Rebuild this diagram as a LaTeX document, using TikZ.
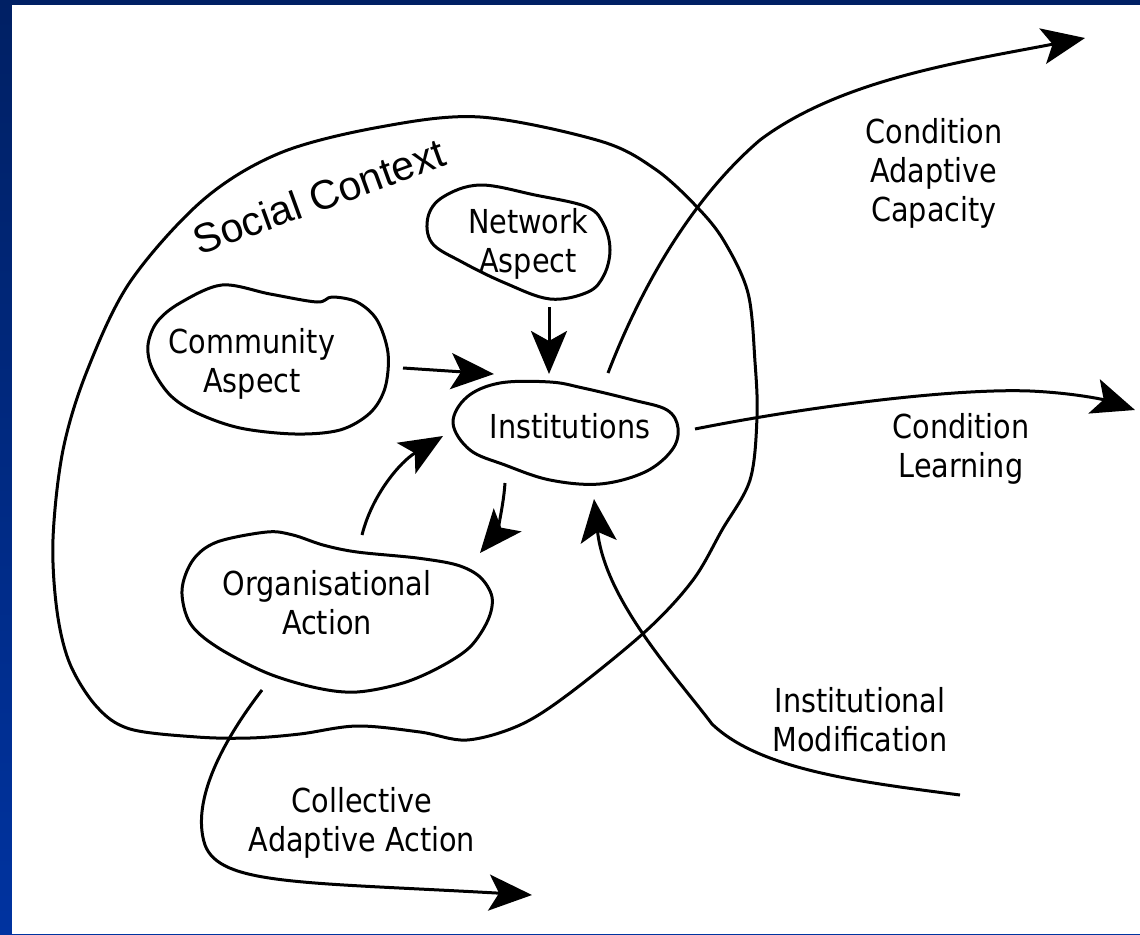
\documentclass[tikz,border=0pt]{standalone}
\usepackage{fontspec}
\usetikzlibrary{arrows.meta}
\newfontfamily\lblfont[FakeStretch=0.87]{DejaVu Sans}
\newfontfamily\ctxfont{Liberation Sans}
\definecolor{navytop}{RGB}{0,32,100}
\definecolor{navybot}{RGB}{0,51,160}
\begin{document}
\begin{tikzpicture}[x=1pt,y=-1pt,
  blob/.style={draw=black,line width=3pt,line join=round},
  conn/.style={line width=3pt,-{Stealth[length=43pt,width=36pt,inset=10pt]}},
  lbl/.style={font=\lblfont\fontsize{33}{39}\selectfont,align=center,inner sep=0pt,anchor=north}]
\useasboundingbox (0,0) rectangle (1140,934);
% frame
\shade[top color=navytop,bottom color=navybot] (0,0) rectangle (1140,934);
\fill[white] (12,5) rectangle (1140,934);

% Social context outline
\draw[blob] plot[smooth cycle,tension=0.55] coordinates {
 (203,200) (280,153) (380,127) (480,117) (600,141) (655,169) (697,207)
 (724,241) (748,293) (755,362) (757,417) (750,480) (722,530) (693,580)
 (647,630) (570,693) (520,725) (467,740) (420,732) (357,726) (300,734)
 (250,738) (197,737) (130,729) (97,707) (70,664) (57,611) (53,539)
 (63,450) (87,371) (130,282)};
\node[font=\ctxfont\fontsize{41}{48}\selectfont,anchor=base,rotate=20,inner sep=0pt] (ctx) at (324,210) {Social Context};

% Network blob
\draw[blob] plot[smooth cycle,tension=0.6] coordinates {
 (480,185) (535,195) (587,207) (604,225) (610,250) (604,275) (588,292)
 (550,299) (505,283) (462,262) (432,243) (428,217) (443,197)};
\node[lbl] (net) at (528,208) {Network\\Aspect};

% Community blob
\draw[blob] plot[smooth cycle,tension=0.55] coordinates {
 (222,285) (270,294) (317,302) (332,297) (357,302) (377,320) (388,353)
 (385,388) (370,413) (340,430) (295,434) (240,428) (197,413) (170,395)
 (152,368) (148,345) (157,322) (180,303)};
\node[lbl] (com) at (252,328) {Community\\Aspect};

% Institutions blob
\draw[blob] plot[smooth cycle,tension=0.6] coordinates {
 (453,423) (467,397) (500,383) (550,382) (583,388) (633,400) (667,410)
 (678,428) (672,450) (645,472) (600,484) (550,480) (505,465) (470,450)};
\node[lbl] (inst) at (570,413) {Institutions};

% Organisational blob
\draw[blob] plot[smooth cycle,tension=0.55] coordinates {
 (193,560) (217,542) (267,532) (293,535) (323,545) (357,552) (417,558)
 (457,565) (480,577) (492,597) (488,620) (470,647) (440,667) (403,683)
 (357,692) (317,688) (267,673) (217,647) (190,623) (182,590)};
\node[lbl] (org) at (327,570) {Organisational\\Action};

% outer labels
\node[lbl] (cac) at (934,118) {Condition\\Adaptive\\Capacity};
\node[lbl] (cl) at (961,413) {Condition\\Learning};
\node[lbl] (im) at (860,687) {Institutional\\Modification};
\node[lbl] (caa) at (362,787) {Collective\\Adaptive Action};

% connector end points
\coordinate (comS) at (403,368);
\coordinate (comT) at (494,374);
\coordinate (netS) at (549,307);
\coordinate (netT) at (549,374);
\coordinate (orgS) at (362,535);
\coordinate (orgT) at (443,436);
\coordinate (instS) at (505,483);
\coordinate (instT) at (480,553);
\coordinate (cacS) at (608,373);
\coordinate (cacM) at (760,140);
\coordinate (cacT) at (1085,38);
\coordinate (clS) at (695,429);
\coordinate (clM) at (1030,391);
\coordinate (clT) at (1135,410);
\coordinate (imS) at (960,795);
\coordinate (imM) at (712,724);
\coordinate (imT) at (594,499);
\coordinate (caaS) at (262,690);
\coordinate (caaM) at (205,845);
\coordinate (caaT) at (532,895);

% connectors
\draw[conn] (comS) -- (comT);
\draw[conn] (netS) -- (netT);
\draw[conn] (orgS) .. controls (372,495) and (400,462) .. (orgT);
\draw[conn] (instS) .. controls (503,512) and (495,535) .. (instT);
\draw[conn] (cacS) .. controls (640,290) and (690,200) .. (cacM)
  .. controls (840,80) and (960,62) .. (cacT);
\draw[conn] (clS) .. controls (800,408) and (950,388) .. (clM)
  .. controls (1075,393) and (1105,400) .. (clT);
\draw[conn] (imS) .. controls (860,782) and (760,770) .. (imM)
  .. controls (675,675) and (605,600) .. (imT);
\draw[conn] (caaS) .. controls (225,738) and (190,800) .. (caaM)
  .. controls (220,885) and (300,882) .. (caaT);
\end{tikzpicture}
\end{document}
